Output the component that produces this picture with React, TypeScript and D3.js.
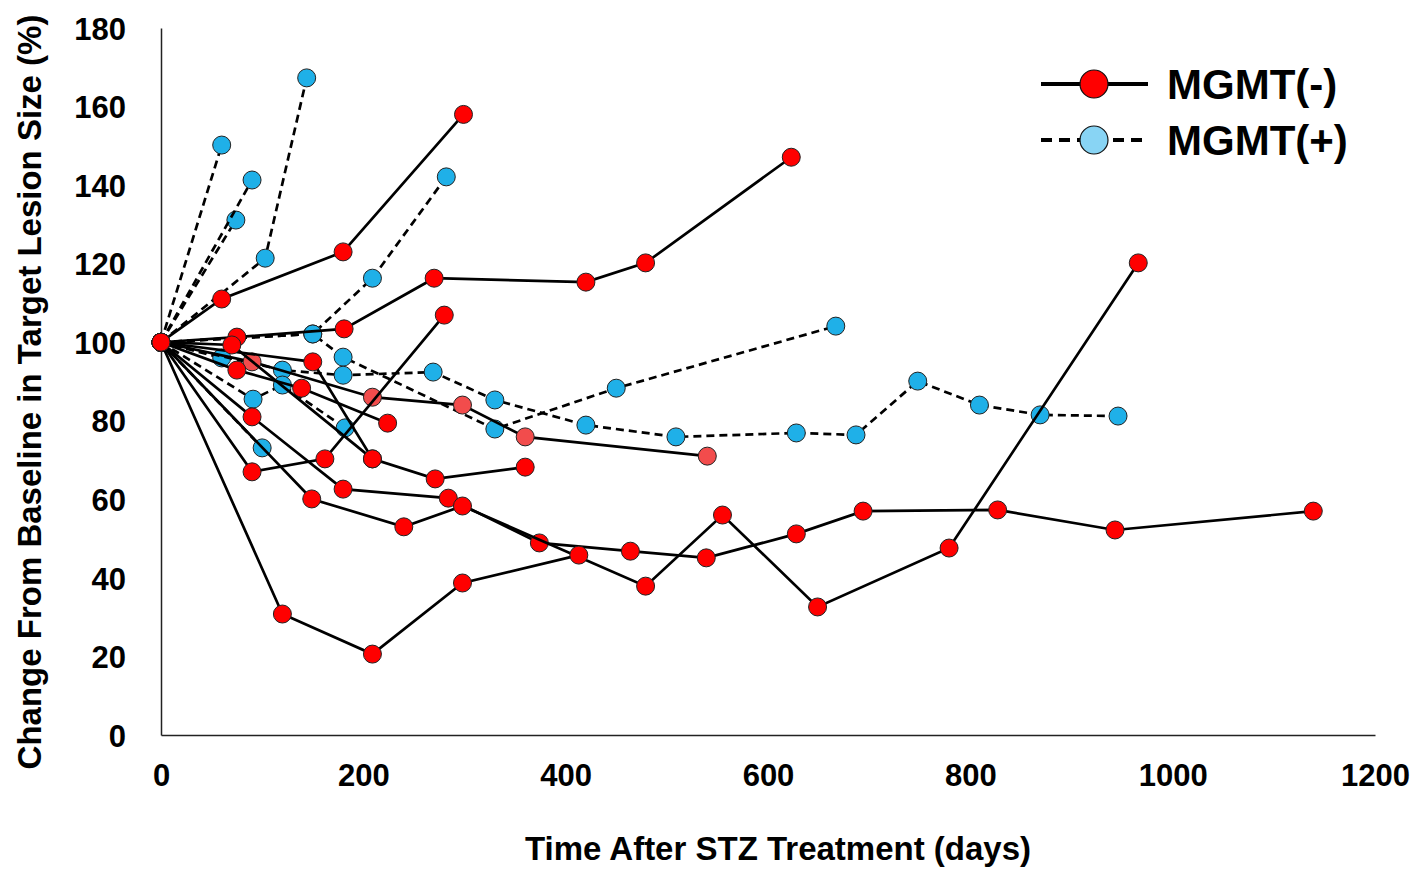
import * as d3 from 'd3';
import { useEffect, useRef } from 'react';

type Pt = [number, number];

// MGMT(-) patients: [days after STZ, % of baseline size]
const neg1: Pt[] = [[0, 100], [60, 111], [180, 123], [299, 158]];
const neg2: Pt[] = [[0, 100], [75, 101.3], [181, 103.4], [270, 116.3], [420, 115.3], [479, 120.2], [623, 147.1]];
const neg3: Pt[] = [[0, 100], [90, 67], [162, 70.3], [280, 106.9]];
const neg4: Pt[] = [[0, 100], [90, 95], [209, 86], [298, 84], [360, 75.9], [540, 71]];
const neg5: Pt[] = [[0, 100], [75, 92.9], [139, 88.3], [224, 79.4]];
const neg6: Pt[] = [[0, 100], [150, 95], [209, 70.3], [271, 65.2], [360, 68.2]];
const neg7: Pt[] = [[0, 100], [90, 81], [180, 62.6], [284, 60.3], [374, 48.9], [464, 46.8], [539, 45.1], [628, 51.2], [694, 57], [827, 57.3], [943, 52.2], [1139, 57]];
const neg8: Pt[] = [[0, 100], [149, 60.1], [240, 53], [298, 58.3], [479, 37.9], [555, 56], [649, 32.6], [779, 47.6], [966, 120.2]];
const neg9: Pt[] = [[0, 100], [120, 30.8], [209, 20.6], [298, 38.7], [413, 45.8]];
const neg10: Pt[] = [[0, 100], [70, 99.3], [209, 70.3]];

// MGMT(+) patients
const pos1: Pt[] = [[0, 100], [60, 150.2]];
const pos2: Pt[] = [[0, 100], [74, 131.1]];
const pos3: Pt[] = [[0, 100], [90, 141.3]];
const pos4: Pt[] = [[0, 100], [103, 121.4], [144, 167.3]];
const pos5: Pt[] = [[0, 100], [150, 102.1], [209, 116.3], [282, 142.1]];
const pos6: Pt[] = [[0, 100], [150, 102.1], [180, 96.2], [330, 77.9], [450, 88.3], [667, 104.1]];
const pos7: Pt[] = [[0, 100], [60, 96]];
const pos8: Pt[] = [[0, 100], [120, 92.9], [180, 91.6], [269, 92.4], [330, 85.3], [420, 78.9], [509, 75.9], [628, 76.9], [687, 76.4], [748, 90.1], [809, 84], [869, 81.5], [946, 81.2]];
const pos9: Pt[] = [[0, 100], [91, 85.5], [120, 89.1], [182, 78.2]];
const pos10: Pt[] = [[0, 100], [100, 73.1]];

const posSeries = [pos1, pos2, pos3, pos4, pos5, pos6, pos7, pos8, pos9, pos10];
const negSeries = [neg1, neg2, neg3, neg5, neg6, neg7, neg8, neg9, neg10];
// this one is drawn in a lighter red in the figure
const negFaded = [neg4];

const xTicks = [0, 200, 400, 600, 800, 1000, 1200];
const yTicks = [0, 20, 40, 60, 80, 100, 120, 140, 160, 180];

const FONT = '"Liberation Sans", Arial, sans-serif';

export default function App() {
    const svgRef = useRef<SVGSVGElement>(null);

    useEffect(() => {
        document.body.style.margin = '0';
        if (!svgRef.current) return;
        const svg = d3.select(svgRef.current);
        svg.selectAll('*').remove();

        const x = d3.scaleLinear().domain([0, 1200]).range([161, 1375]);
        const y = d3.scaleLinear().domain([0, 180]).range([735, 28]);

        const line = d3
            .line<Pt>()
            .x((d) => x(d[0]))
            .y((d) => y(d[1]));

        // axes
        const xAxis = svg
            .append('g')
            .attr('transform', 'translate(0,' + y(0) + ')')
            .call(d3.axisBottom(x).tickValues(xTicks).tickSize(0).tickPadding(29).tickFormat(d3.format('d')));
        const yAxis = svg
            .append('g')
            .attr('transform', 'translate(' + x(0) + ',0)')
            .call(d3.axisLeft(y).tickValues(yTicks).tickSize(0).tickPadding(35).tickFormat(d3.format('d')));
        [xAxis, yAxis].forEach((g) => {
            g.select('.domain').attr('stroke', '#222').attr('stroke-width', 1.5);
            g.selectAll('text')
                .attr('font-family', FONT)
                .attr('font-weight', 'bold')
                .attr('font-size', 31)
                .attr('fill', '#000');
        });
        yAxis.selectAll('text').attr('dy', '0.36em');

        // axis titles
        svg.append('text')
            .attr('x', 778)
            .attr('y', 860)
            .attr('text-anchor', 'middle')
            .attr('font-family', FONT)
            .attr('font-weight', 'bold')
            .attr('font-size', 33)
            .text('Time After STZ Treatment (days)');
        svg.append('text')
            .attr('transform', 'translate(41,392) rotate(-90)')
            .attr('text-anchor', 'middle')
            .attr('font-family', FONT)
            .attr('font-weight', 'bold')
            .attr('font-size', 33)
            .text('Change From Baseline in Target Lesion Size (%)');

        const drawSeries = (data: Pt[], dashed: boolean, fill: string) => {
            const g = svg.append('g');
            g.append('path')
                .datum(data)
                .attr('d', line)
                .attr('fill', 'none')
                .attr('stroke', '#000')
                .attr('stroke-width', 2.7)
                .attr('stroke-dasharray', dashed ? '8,5' : null);
            g.selectAll('circle')
                .data(data)
                .join('circle')
                .attr('cx', (d) => x(d[0]))
                .attr('cy', (d) => y(d[1]))
                .attr('r', 9)
                .attr('fill', fill)
                .attr('stroke', '#222')
                .attr('stroke-width', 1);
        };

        posSeries.forEach((s) => drawSeries(s, true, '#1fb0e8'));
        negFaded.forEach((s) => drawSeries(s, false, '#f24c4c'));
        negSeries.forEach((s) => drawSeries(s, false, '#ff0000'));

        // legend
        const legend = svg.append('g').attr('font-family', FONT).attr('font-weight', 'bold');
        const rows = [
            { label: 'MGMT(-)', fill: '#ff0000', dash: null, cy: 84 },
            { label: 'MGMT(+)', fill: '#88d4f4', dash: '11,7', cy: 140 },
        ];
        rows.forEach((r) => {
            legend.append('line')
                .attr('x1', 1041)
                .attr('x2', 1148)
                .attr('y1', r.cy)
                .attr('y2', r.cy)
                .attr('stroke', '#000')
                .attr('stroke-width', 4)
                .attr('stroke-dasharray', r.dash);
            legend.append('circle')
                .attr('cx', 1094)
                .attr('cy', r.cy)
                .attr('r', 14)
                .attr('fill', r.fill)
                .attr('stroke', '#111')
                .attr('stroke-width', 1.2);
            legend.append('text')
                .attr('x', 1167)
                .attr('y', r.cy + 15)
                .attr('font-size', 42)
                .text(r.label);
        });
    }, []);

    return <svg ref={svgRef} width={1416} height={873} style={{ display: 'block', background: '#fff' }} />;
}
